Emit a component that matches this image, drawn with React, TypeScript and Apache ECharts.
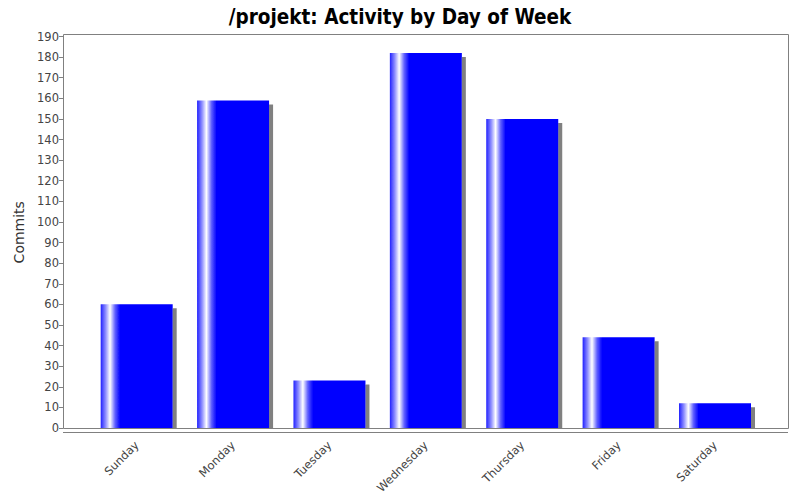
import React, { useEffect, useRef } from "react";
import * as echarts from "echarts";

const days = ["Sunday", "Monday", "Tuesday", "Wednesday", "Thursday", "Friday", "Saturday"];
const commits = [60, 159, 23, 182, 150, 44, 12];
const title = "/projekt: Activity by Day of Week";
const yName = "Commits";

export default function App() {
  const ref = useRef<HTMLDivElement>(null);
  useEffect(() => {
    if (!ref.current) return;
    const chart = echarts.init(ref.current, null, { renderer: "svg" });
    const grad = new echarts.graphic.LinearGradient(0, 0, 1, 0, [
      { offset: 0, color: "#2020ff" },
      { offset: 0.07, color: "#9090ff" },
      { offset: 0.13, color: "#ffffff" },
      { offset: 0.2, color: "#6060ff" },
      { offset: 0.27, color: "#0000ff" },
      { offset: 1, color: "#0000ff" },
    ]);
    chart.setOption({
      animation: false,
      backgroundColor: "#ffffff",
      title: {
        text: title,
        left: "center",
        top: 1,
        textStyle: {
          fontFamily: "DejaVu Sans Condensed",
          fontWeight: "bold",
          fontSize: 20.5,
          color: "#000",
        },
      },
      graphic: [
        {
          type: "rect",
          shape: { x: 60, y: 429, width: 740, height: 3 },
          style: { fill: "#ffffff" },
          z: 99,
        },
        {
          type: "rect",
          shape: { x: 63.5, y: 34.5, width: 725, height: 394 },
          style: { fill: "none", stroke: "#808080", lineWidth: 1 },
          z: 100,
        },
        {
          type: "line",
          shape: { x1: 63, y1: 432.5, x2: 788, y2: 432.5 },
          style: { stroke: "#808080", lineWidth: 1 },
          z: 100,
        },
      ],
      grid: { left: 88.5, right: 36.8, top: 36.5, bottom: 72 },
      xAxis: {
        type: "category",
        data: days,
        offset: 4,
        axisLine: { show: false },
        axisTick: { show: true, length: 4, alignWithLabel: true, lineStyle: { color: "#808080" } },
        axisLabel: {
          rotate: 45,
          fontFamily: "DejaVu Sans",
          fontSize: 11.5,
          color: "#444",
          margin: 11,
        },
      },
      yAxis: {
        type: "value",
        min: 0,
        max: 190,
        interval: 10,
        offset: 25.5,
        name: yName,
        nameLocation: "middle",
        nameGap: 36,
        nameTextStyle: { fontFamily: "DejaVu Sans", fontSize: 14, color: "#333" },
        axisLine: { show: true, lineStyle: { color: "#808080" } },
        axisTick: { show: true, length: 4, lineStyle: { color: "#808080" } },
        axisLabel: { fontFamily: "DejaVu Sans", fontSize: 11.5, color: "#444", margin: 4 },
        splitLine: { show: false },
      },
      series: [
        {
          type: "bar",
          data: commits,
          barWidth: 72,
          itemStyle: {
            color: grad,
            shadowColor: "#808080",
            shadowOffsetX: 4,
            shadowOffsetY: 4,
            shadowBlur: 0,
          },
        },
      ],
    });
    return () => chart.dispose();
  }, []);
  return <div ref={ref} style={{ width: 800, height: 500, position: "absolute", left: 0, top: 0 }} />;
}
